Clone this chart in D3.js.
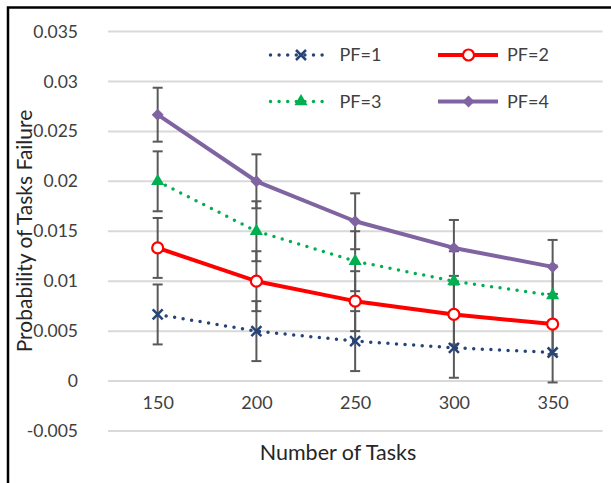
<!DOCTYPE html>
<html><head><meta charset="utf-8">
<script src="https://cdn.jsdelivr.net/npm/d3@7"></script>
<style>body{margin:0;background:#fff}svg{display:block}text{font-family:Lato,"Open Sans",sans-serif}</style>
</head><body>
<script>
const categories = [150, 200, 250, 300, 350];
const pf1 = [0.00667, 0.005, 0.004, 0.00333, 0.00286];
const pf2 = [0.01333, 0.01, 0.008, 0.00667, 0.00571];
const pf3 = [0.02, 0.015, 0.012, 0.01, 0.00857];
const pf4 = [0.02667, 0.02, 0.016, 0.01333, 0.01143];
const err1 = [0.003, 0.003, 0.003, 0.003, 0.003];
const err2 = [0.003, 0.003, 0.003, 0.003, 0.003];
const err3 = [0.003, 0.003, 0.003, 0.003, 0.003];
const err4 = [0.0027, 0.0027, 0.0028, 0.0028, 0.0027];
const yTicks = [-0.005, 0, 0.005, 0.01, 0.015, 0.02, 0.025, 0.03, 0.035];
const seriesNames = ["PF=1", "PF=2", "PF=3", "PF=4"];

const W = 611, H = 483;
const svg = d3.select("body").append("svg").attr("width", W).attr("height", H);

const x = d3.scalePoint().domain(categories).range([108.3, 602]).padding(0.5);
const y = d3.scaleLinear().domain([-0.005, 0.035]).range([431, 31.5]);

// border (top & left)
svg.append("path").attr("d", `M8,${H} L8,7.5 L${W},7.5`).attr("fill", "none").attr("stroke", "#000").attr("stroke-width", 2.5);

// gridlines
svg.append("g").selectAll("line").data(yTicks).join("line")
  .attr("x1", 108).attr("x2", 602.5)
  .attr("y1", d => y(d)).attr("y2", d => y(d))
  .attr("stroke", "#D9D9D9").attr("stroke-width", 2);

// y axis (labels only)
const yAxis = d3.axisLeft(y).tickValues(yTicks).tickSize(0).tickPadding(0)
  .tickFormat(d => String(+d.toFixed(3)));
const gy = svg.append("g").attr("transform", "translate(78,0)").call(yAxis);
gy.select(".domain").remove();
gy.selectAll("text").attr("font-size", 17.5).attr("fill", "#404040").attr("font-family", "Lato");

// x axis labels
const xAxis = d3.axisBottom(x).tickSize(0).tickPadding(0);
const gx = svg.append("g").attr("transform", "translate(0,396)").call(xAxis);
gx.select(".domain").remove();
gx.selectAll("text").attr("font-size", 18).attr("fill", "#404040").attr("font-family", "Lato");

// titles
svg.append("text").attr("x", 338).attr("y", 460).attr("text-anchor", "middle")
  .attr("font-size", 21.5).attr("fill", "#262626").text("Number of Tasks");
svg.append("text").attr("transform", "translate(32,231) rotate(-90)").attr("text-anchor", "middle")
  .attr("font-size", 21).attr("fill", "#262626").text("Probability of Tasks Failure");

const series = [
  {name: seriesNames[0], vals: pf1, err: err1, color: "#264478", dash: "0 8.6", width: 3.5, marker: "x"},
  {name: seriesNames[1], vals: pf2, err: err2, color: "#FF0000", dash: null, width: 4, marker: "circle"},
  {name: seriesNames[2], vals: pf3, err: err3, color: "#00B050", dash: "0 8.6", width: 3.5, marker: "triangle"},
  {name: seriesNames[3], vals: pf4, err: err4, color: "#8064A2", dash: null, width: 4, marker: "diamond"}
];

const line = d3.line().x((d, i) => x(categories[i])).y(d => y(d));

function drawMarker(g, type, cx, cy, color) {
  if (type === "x") {
    const s = 5;
    g.append("path").attr("d", `M${cx-s},${cy-s}L${cx+s},${cy+s}M${cx-s},${cy+s}L${cx+s},${cy-s}`)
      .attr("stroke", color).attr("stroke-width", 2.5).attr("fill", "none");
  } else if (type === "circle") {
    g.append("circle").attr("cx", cx).attr("cy", cy).attr("r", 5.5)
      .attr("fill", "#fff").attr("stroke", color).attr("stroke-width", 2.2);
  } else if (type === "triangle") {
    g.append("path").attr("d", d3.symbol(d3.symbolTriangle, 75)()).attr("transform", `translate(${cx},${cy})`)
      .attr("fill", color);
  } else if (type === "diamond") {
    g.append("path").attr("d", `M${cx},${cy-6}L${cx+6},${cy}L${cx},${cy+6}L${cx-6},${cy}Z`).attr("fill", color);
  }
}

// error bars
const eg = svg.append("g");
series.forEach(s => {
  s.vals.forEach((v, i) => {
    const cx = x(categories[i]);
    const y1 = y(v + s.err[i]), y2 = y(v - s.err[i]);
    eg.append("line").attr("x1", cx).attr("x2", cx).attr("y1", y1).attr("y2", y2)
      .attr("stroke", "#595959").attr("stroke-width", 2);
    [y1, y2].forEach(yy => eg.append("line").attr("x1", cx - 5).attr("x2", cx + 5).attr("y1", yy).attr("y2", yy)
      .attr("stroke", "#595959").attr("stroke-width", 2));
  });
});

// lines and markers
series.forEach(s => {
  const p = svg.append("path").attr("d", line(s.vals)).attr("fill", "none")
    .attr("stroke", s.color).attr("stroke-width", s.width).attr("stroke-linejoin", "round");
  if (s.dash) p.attr("stroke-dasharray", s.dash).attr("stroke-linecap", "round");
  const mg = svg.append("g");
  s.vals.forEach((v, i) => drawMarker(mg, s.marker, x(categories[i]), y(v), s.color));
});

// legend
const legPos = [[270.5, 55], [438, 55], [270.5, 101.5], [438, 101.5]];
series.forEach((s, i) => {
  const [lx, ly] = legPos[i];
  const lg = svg.append("g");
  const p = lg.append("line").attr("x1", lx).attr("x2", lx + 60).attr("y1", ly).attr("y2", ly)
    .attr("stroke", s.color).attr("stroke-width", s.width);
  if (s.dash) p.attr("stroke-dasharray", s.dash).attr("stroke-linecap", "round");
  drawMarker(lg, s.marker, lx + 30.5, ly, s.color);
  lg.append("text").attr("x", lx + 69).attr("y", ly).attr("dy", "0.35em")
    .attr("font-size", 18).attr("fill", "#404040").text(s.name);
});
</script>
</body></html>
